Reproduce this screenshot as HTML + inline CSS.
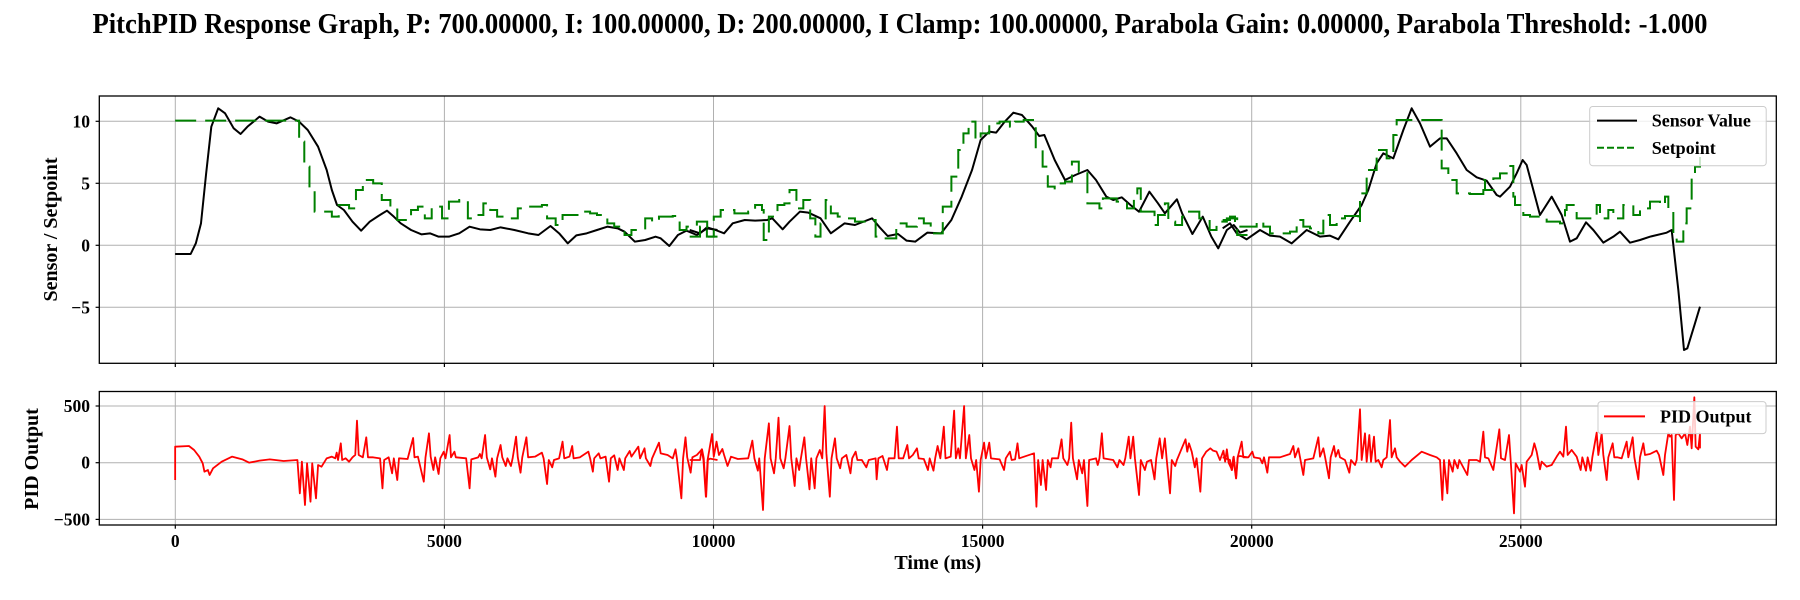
<!DOCTYPE html>
<html><head><meta charset="utf-8"><style>
html,body{margin:0;padding:0;background:#fff;}
svg{display:block;}
text{font-family:"Liberation Serif","DejaVu Serif",serif;font-weight:bold;fill:#000;}
</style></head><body>
<svg width="1800" height="600" viewBox="0 0 1800 600" xmlns="http://www.w3.org/2000/svg">
<rect width="1800" height="600" fill="#fff"/>
<text x="900" y="33" font-size="28" text-anchor="middle" textLength="1615" lengthAdjust="spacingAndGlyphs">PitchPID Response Graph, P: 700.00000, I: 100.00000, D: 200.00000, I Clamp: 100.00000, Parabola Gain: 0.00000, Parabola Threshold: -1.000</text>

<g stroke="#b0b0b0" stroke-width="1">
<line x1="175.3" y1="96" x2="175.3" y2="363.3"/><line x1="444.4" y1="96" x2="444.4" y2="363.3"/><line x1="713.5" y1="96" x2="713.5" y2="363.3"/><line x1="982.6" y1="96" x2="982.6" y2="363.3"/><line x1="1251.7" y1="96" x2="1251.7" y2="363.3"/><line x1="1520.8" y1="96" x2="1520.8" y2="363.3"/>
<line x1="99.3" y1="121.3" x2="1776.3" y2="121.3"/><line x1="99.3" y1="183.3" x2="1776.3" y2="183.3"/><line x1="99.3" y1="245.3" x2="1776.3" y2="245.3"/><line x1="99.3" y1="307.3" x2="1776.3" y2="307.3"/>
<line x1="175.3" y1="391.5" x2="175.3" y2="525"/><line x1="444.4" y1="391.5" x2="444.4" y2="525"/><line x1="713.5" y1="391.5" x2="713.5" y2="525"/><line x1="982.6" y1="391.5" x2="982.6" y2="525"/><line x1="1251.7" y1="391.5" x2="1251.7" y2="525"/><line x1="1520.8" y1="391.5" x2="1520.8" y2="525"/>
<line x1="99.3" y1="406" x2="1776.3" y2="406"/><line x1="99.3" y1="462.7" x2="1776.3" y2="462.7"/><line x1="99.3" y1="519.4" x2="1776.3" y2="519.4"/>
</g>

<g fill="none" stroke="#000" stroke-width="2" stroke-linejoin="round">
<polyline vector-effect="non-scaling-stroke" transform="translate(170,90) scale(0.34435,0.33333)" points="15,492 60,492 75,460 90,400 105,250 120,110 140,55 160,70 185,115 205,132 225,110 260,80 285,95 310,100 350,82 375,95 400,120 430,170 455,240 470,300 485,345 505,360 530,395 555,422 580,395 605,378 630,362 650,380 670,400 700,420 730,433 755,430 780,440 810,440 840,430 870,410 900,418 930,420 960,412 1000,420 1040,430 1070,435 1105,408 1130,430 1155,460 1180,436 1210,430 1240,420 1270,410 1300,415 1320,425 1350,455 1380,450 1410,440 1425,445 1450,468 1475,435 1500,422 1530,435 1560,415 1590,420"/>
<polyline vector-effect="non-scaling-stroke" transform="translate(700,90) scale(0.34435,0.33333)" points="-30,420 0,430 20,412 45,420 70,430 95,400 130,390 160,392 195,390 210,385 240,418 260,395 290,365 315,368 350,385 380,430 420,400 450,405 500,385 520,410 545,438 575,432 600,452 625,455 660,428 700,430 730,390 760,320 790,240 815,150 840,125 860,128 885,95 910,68 935,75 965,110 985,138 1000,135 1030,210 1060,270 1090,255 1125,240 1150,270 1180,320 1200,330 1225,322 1250,345 1275,365 1305,305 1330,340 1350,370 1385,328 1400,370 1430,432 1460,380 1485,440 1505,475 1530,420 1550,405 1568,428 1590,420"/>
<polyline vector-effect="non-scaling-stroke" transform="translate(1230,90) scale(0.33333)" points="-22,415 0,400 20,430 50,448 90,420 120,437 150,440 185,460 230,420 270,440 300,437 325,448 360,395 395,345 415,300 440,220 460,190 490,205 520,120 545,55 570,100 600,170 630,145 650,145 680,190 710,240 740,262 770,272 800,315 810,320 840,290 860,250 878,210 890,225 910,300 930,375 965,320 995,375 1020,455 1040,445 1068,397 1090,420 1120,458 1150,440 1170,425 1200,458 1230,450 1260,440 1310,428 1325,420 1345,600 1362,780 1372,775 1395,700 1410,650"/>
</g>

<g fill="none" stroke="#008000" stroke-width="2" stroke-dasharray="21,9">
<path vector-effect="non-scaling-stroke" transform="translate(170,90) scale(0.34435,0.33333)" d="M15,92 H375 V155 H390 V230 H405 V300 H420 V365 H470 V380 H490 V345 H520 V355 H540 V300 H560 V270 H590 V280 H615 V330 H640 V350 H660 V390 H700 V360 H720 V350 H740 V385 H760 V350 H790 V385 H810 V335 H840 V330 H865 V385 H890 V375 H910 V340 H930 V360 H950 V380 H980 V385 H1010 V355 H1035 V350 H1080 V345 H1095 V385 H1120 V405 H1140 V375 H1170 V375 H1190 V365 H1220 V370 H1240 V375 H1270 V400 H1290 V410 H1320 V435 H1340 V420 H1380 V385 H1400 V395 H1420 V380 H1460 V378 H1480 V420 H1500 V410 H1530 V395 H1560 V440 H1590"/>
<path vector-effect="non-scaling-stroke" transform="translate(700,90) scale(0.34435,0.33333)" d="M-30,440 H0 V410 H20 V440 H40 V380 H60 V360 H100 V370 H140 V365 H160 V345 H180 V360 H185 V450 H200 V380 H225 V345 H245 V340 H260 V300 H280 V355 H300 V330 H320 V385 H335 V440 H350 V400 H365 V330 H380 V370 H400 V380 H425 V385 H450 V395 H490 V390 H510 V440 H530 V445 H570 V400 H600 V410 H630 V385 H650 V400 H670 V430 H705 V350 H730 V260 H750 V180 H765 V130 H780 V95 H800 V150 H815 V130 H840 V100 H870 V95 H900 V110 H915 V95 H940 V90 H975 V175 H995 V230 H1010 V290 H1030 V295 H1040 V280 H1060 V275 H1080 V215 H1100 V245 H1125 V340 H1160 V355 H1170 V325 H1210 V335 H1240 V355 H1260 V320 H1270 V295 H1280 V365 H1320 V405 H1330 V375 H1350 V340 H1360 V395 H1380 V405 H1400 V380 H1420 V365 H1450 V385 H1480 V420 H1500 V395 H1530 V385 H1560 V435 H1590"/>
<path vector-effect="non-scaling-stroke" transform="translate(1230,90) scale(0.33333)" d="M-22,390 H0 V380 H15 V410 H50 V410 H80 V395 H100 V410 H120 V430 H180 V425 H200 V390 H220 V410 H240 V415 H265 V430 H280 V375 H300 V405 H320 V385 H345 V378 H385 V400 H390 V310 H410 V240 H440 V180 H470 V205 H490 V135 H500 V90 H635 V235 H655 V270 H680 V310 H720 V312 H760 V270 H765 V300 H790 V265 H810 V250 H830 V228 H850 V320 H855 V345 H880 V375 H900 V380 H950 V395 H990 V400 H1005 V360 H1010 V345 H1040 V385 H1070 V385 H1100 V345 H1110 V385 H1135 V360 H1150 V385 H1180 V345 H1210 V375 H1230 V355 H1260 V335 H1290 V345 H1305 V320 H1315 V365 H1330 V440 H1340 V455 H1360 V400 H1370 V355 H1385 V250 H1395 V230 H1410 V200"/>
</g>

<g fill="none" stroke="#ff0000" stroke-width="1.8" stroke-linejoin="round">
<polyline vector-effect="non-scaling-stroke" transform="translate(170,380) scale(0.34435,0.33333)" points="15,300 15,200 55,198 70,210 85,230 95,250 100,275 110,270 115,285 125,265 150,245 180,230 210,238 230,248 260,242 290,238 330,243 370,240 377,340 383,245 392,375 398,250 408,365 413,250 424,355 430,255 440,260 455,235 470,230 480,235 484,218 488,240 496,190 500,240 510,235 520,245 530,232 538,225 543,122 548,225 560,232 570,172 575,232 590,232 610,235 617,325 622,240 635,232 645,280 650,235 660,300 665,235 690,237 706,174 710,232 720,230 737,305 742,232 752,160 757,230 765,270 770,232 780,282 785,235 795,215 800,235 812,165 816,232 826,215 830,232 860,235 870,325 875,238 895,232 900,222 905,235 915,165 920,232 930,268 935,235 945,290 950,235 960,195 965,232 975,258 980,235 990,258 995,235 1005,170 1010,232 1018,278 1023,232 1035,172 1040,232 1060,230 1080,218 1085,235 1095,312 1100,240 1110,262 1115,240 1130,235 1140,185 1145,235 1160,230 1168,198 1172,235 1190,232 1215,215 1220,235 1228,275 1232,235 1245,220 1250,235 1265,230 1275,305 1280,235 1290,226 1300,270 1305,235 1318,270 1322,235 1335,213 1340,230 1360,200 1365,235 1378,205 1382,235 1395,258 1400,235 1420,188 1425,220 1445,225 1460,235 1468,208 1472,235 1485,355 1490,235 1497,172 1502,232 1512,278 1517,232 1530,225 1545,208 1550,235 1557,350 1562,240 1568,236 1590,240"/>
<polyline vector-effect="non-scaling-stroke" transform="translate(700,380) scale(0.34435,0.33333)" points="-30,240 0,240 5,208 10,240 17,350 22,240 35,162 40,230 48,185 55,225 65,207 70,225 80,258 90,230 110,237 140,235 152,182 158,235 168,272 172,235 183,390 188,235 200,130 205,235 215,280 220,235 228,113 233,235 243,265 248,235 260,138 265,235 275,318 280,235 288,270 293,235 303,172 308,235 318,328 323,235 333,325 338,235 348,210 355,235 362,78 367,220 377,350 382,235 392,175 397,235 407,265 412,235 425,225 437,280 442,235 452,215 457,240 470,240 483,262 490,240 510,235 513,298 518,235 530,228 543,270 548,235 565,235 572,140 577,235 590,235 602,195 607,235 618,225 630,205 635,235 650,237 662,270 667,235 678,272 683,235 690,198 698,235 708,140 713,235 728,230 738,92 743,235 750,205 755,235 767,78 772,235 782,165 787,235 797,270 802,240 810,335 815,240 825,188 830,235 840,188 845,235 870,238 883,270 888,235 900,215 905,240 915,238 922,190 927,235 970,220 977,380 982,240 990,315 995,240 1005,330 1010,240 1018,262 1022,235 1040,235 1050,178 1055,235 1067,255 1072,235 1078,128 1083,235 1095,298 1100,240 1110,280 1115,240 1125,378 1130,240 1150,235 1155,255 1160,235 1167,160 1172,235 1200,240 1212,262 1218,240 1230,255 1235,235 1245,170 1250,235 1258,170 1263,235 1275,345 1280,240 1292,270 1298,245 1310,240 1320,298 1325,235 1335,175 1342,235 1350,175 1355,235 1365,340 1370,240 1380,258 1385,240 1395,215 1410,178 1415,215 1420,190 1428,215 1437,262 1442,235 1453,335 1458,235 1470,215 1482,205 1490,212 1500,215 1510,240 1520,212 1525,245 1530,208 1535,248 1545,270 1550,230 1557,295 1562,230 1568,228 1590,232"/>
<polyline vector-effect="non-scaling-stroke" transform="translate(1230,380) scale(0.33333)" points="-22,232 0,240 5,270 10,232 18,295 23,232 35,185 40,232 55,232 67,215 72,232 90,235 97,250 102,232 112,278 117,232 150,232 180,222 190,198 195,232 205,205 210,232 220,285 225,240 250,235 265,172 270,230 280,205 285,230 297,295 302,232 312,198 317,230 325,210 330,232 345,240 358,278 363,240 375,255 380,240 390,88 395,240 405,160 410,245 418,165 423,245 432,170 437,245 445,240 455,262 460,240 470,232 480,120 485,232 495,205 500,232 510,245 525,260 545,240 575,215 600,225 620,232 630,240 637,360 642,240 652,340 657,240 668,275 673,240 683,265 688,240 712,285 717,240 740,240 750,245 760,155 765,232 775,235 790,270 795,235 808,148 813,235 825,240 837,165 842,240 852,400 857,250 870,275 875,255 885,320 890,245 905,225 913,190 920,215 930,268 935,245 950,260 965,255 980,230 990,215 1000,230 1008,140 1013,225 1025,210 1040,230 1052,270 1057,232 1068,272 1073,232 1082,272 1087,232 1100,158 1105,225 1115,160 1120,225 1130,300 1135,232 1148,190 1153,232 1163,232 1175,235 1190,185 1195,232 1208,172 1213,232 1225,298 1230,232 1240,190 1245,225 1260,222 1280,212 1287,225 1300,285 1305,225 1315,160 1320,170 1325,165 1332,360 1337,165 1345,160 1355,175 1365,160 1372,195 1380,140 1385,205 1393,52 1397,200 1405,208 1410,160 1410,205"/>
</g>

<g fill="none" stroke="#000" stroke-width="1.3">
<rect x="99.3" y="96" width="1677" height="267.3"/>
<rect x="99.3" y="391.5" width="1677" height="133.5"/>
</g>
<g stroke="#000" stroke-width="1.2">
<line x1="175.3" y1="363.3" x2="175.3" y2="367"/><line x1="444.4" y1="363.3" x2="444.4" y2="367"/><line x1="713.5" y1="363.3" x2="713.5" y2="367"/><line x1="982.6" y1="363.3" x2="982.6" y2="367"/><line x1="1251.7" y1="363.3" x2="1251.7" y2="367"/><line x1="1520.8" y1="363.3" x2="1520.8" y2="367"/>
<line x1="175.3" y1="525" x2="175.3" y2="528.7"/><line x1="444.4" y1="525" x2="444.4" y2="528.7"/><line x1="713.5" y1="525" x2="713.5" y2="528.7"/><line x1="982.6" y1="525" x2="982.6" y2="528.7"/><line x1="1251.7" y1="525" x2="1251.7" y2="528.7"/><line x1="1520.8" y1="525" x2="1520.8" y2="528.7"/>
<line x1="95.6" y1="121.3" x2="99.3" y2="121.3"/><line x1="95.6" y1="183.3" x2="99.3" y2="183.3"/><line x1="95.6" y1="245.3" x2="99.3" y2="245.3"/><line x1="95.6" y1="307.3" x2="99.3" y2="307.3"/>
<line x1="95.6" y1="406" x2="99.3" y2="406"/><line x1="95.6" y1="462.7" x2="99.3" y2="462.7"/><line x1="95.6" y1="519.4" x2="99.3" y2="519.4"/>
</g>
<g font-size="17.5" text-anchor="end">
<text x="90" y="127.3">10</text><text x="90" y="189.3">5</text><text x="90" y="251.3">0</text><text x="90" y="313.3">−5</text>
<text x="90" y="412">500</text><text x="90" y="468.7">0</text><text x="90" y="525.4">−500</text>
</g>
<g font-size="17.5" text-anchor="middle">
<text x="175.3" y="547">0</text><text x="444.4" y="547">5000</text><text x="713.5" y="547">10000</text><text x="982.6" y="547">15000</text><text x="1251.7" y="547">20000</text><text x="1520.8" y="547">25000</text>
</g>
<text x="937.8" y="569" font-size="20" text-anchor="middle">Time (ms)</text>
<text transform="translate(57,229.5) rotate(-90)" font-size="20" text-anchor="middle">Sensor / Setpoint</text>
<text transform="translate(38,459) rotate(-90)" font-size="20" text-anchor="middle">PID Output</text>

<rect x="1589.7" y="106.5" width="176.5" height="59.2" rx="3" fill="#fff" fill-opacity="0.8" stroke="#cccccc" stroke-width="1"/>
<line x1="1597" y1="120.6" x2="1637" y2="120.6" stroke="#000" stroke-width="2"/>
<line x1="1597" y1="147.8" x2="1637" y2="147.8" stroke="#008000" stroke-width="2" stroke-dasharray="7,3"/>
<text x="1651.7" y="126.6" font-size="18">Sensor Value</text>
<text x="1651.7" y="153.8" font-size="18">Setpoint</text>
<rect x="1598" y="401.6" width="168" height="32" rx="3" fill="#fff" fill-opacity="0.8" stroke="#cccccc" stroke-width="1"/>
<line x1="1604" y1="416.4" x2="1645" y2="416.4" stroke="#ff0000" stroke-width="2"/>
<text x="1660" y="422.4" font-size="18">PID Output</text>
</svg>
</body></html>
